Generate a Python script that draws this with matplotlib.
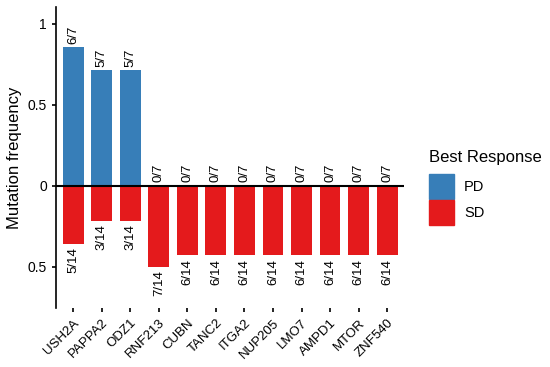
import matplotlib.pyplot as plt
from matplotlib.patches import Patch

plt.rcParams['font.family'] = ['Liberation Sans', 'DejaVu Sans']

genes = ['USH2A', 'PAPPA2', 'ODZ1', 'RNF213', 'CUBN', 'TANC2', 'ITGA2',
         'NUP205', 'LMO7', 'AMPD1', 'MTOR', 'ZNF540']
pd_count = [6, 5, 5, 0, 0, 0, 0, 0, 0, 0, 0, 0]
sd_count = [5, 3, 3, 7, 6, 6, 6, 6, 6, 6, 6, 6]
n_pd = 7
n_sd = 14

blue = '#377EB8'
red = '#E41A1C'

fig = plt.figure(figsize=(5.5, 3.67), dpi=100)
ax = fig.add_axes([0.102, 0.161, 0.633, 0.82])

x = range(len(genes))
pd_freq = [c / n_pd for c in pd_count]
sd_freq = [-c / n_sd for c in sd_count]

ax.bar(x, pd_freq, width=0.73, color=blue)
ax.bar(x, sd_freq, width=0.73, color=red)
ax.axhline(0, color='black', lw=1.5)

for i in x:
    ax.annotate(f'{pd_count[i]}/{n_pd}', (i, pd_freq[i]), xytext=(0, 2.5),
                textcoords='offset points', rotation=90, ha='center', va='bottom',
                fontsize=9.5)
    ax.annotate(f'{sd_count[i]}/{n_sd}', (i, sd_freq[i]), xytext=(0, -2.5),
                textcoords='offset points', rotation=90, ha='center', va='top',
                fontsize=9.5)

ax.set_xlim(-0.6, len(genes) - 0.4)
ax.set_ylim(-0.753, 1.105)
ax.set_yticks([1, 0.5, 0, -0.5])
ax.set_yticklabels(['1', '0.5', '0', '0.5'], fontsize=10)
ax.set_xticks(list(x))
ax.set_xticklabels(genes, rotation=45, ha='right', rotation_mode='anchor', fontsize=9.5)
ax.set_ylabel('Mutation frequency', fontsize=12)

for s in ['top', 'right', 'bottom']:
    ax.spines[s].set_visible(False)
ax.spines['left'].set_linewidth(1.2)
ax.tick_params(axis='both', length=3, width=1.2, color='black')

handles = [Patch(color=blue, label='PD'), Patch(color=red, label='SD')]
leg = fig.legend(handles=handles, title='Best Response', loc='upper left',
                 bbox_to_anchor=(0.78, 0.5915), frameon=False, fontsize=10.5,
                 title_fontsize=12, handlelength=1.7, handleheight=2.25,
                 handletextpad=0.7, labelspacing=0.1, borderpad=0,
                 borderaxespad=0)
leg._legend_box.align = 'left'
leg._legend_box.sep = 6.5

fig.savefig('out.png', dpi=100)
